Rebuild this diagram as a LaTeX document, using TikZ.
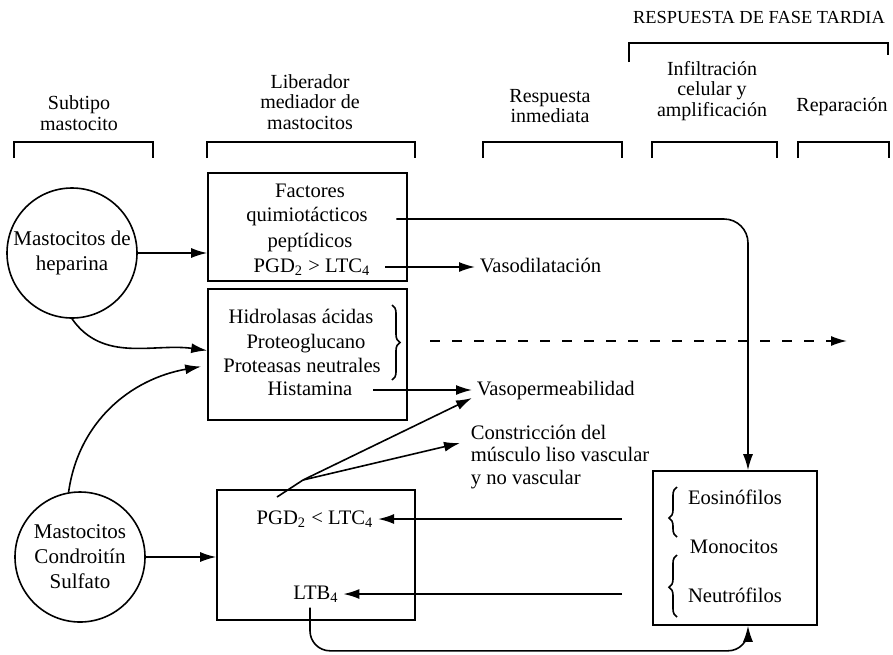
\documentclass[tikz,border=0pt]{standalone}
\usepackage{fontspec}
\setmainfont{Liberation Serif}
\usetikzlibrary{arrows.meta}
\usetikzlibrary{calc}
\usetikzlibrary{decorations.pathreplacing}

\begin{document}
\begin{tikzpicture}[x=0.5pt,y=-0.5pt,thick,
  arr/.style={-{Latex[length=8pt,width=5pt]}},
  box/.style={draw, minimum width=99.5pt, inner sep=0pt},
  cell/.style={draw, circle, inner sep=0pt, align=center, font=\fontsize{10.5}{12.5}\selectfont},
  hdr/.style={align=center, font=\fontsize{10}{10.2}\selectfont},
  txt/.style={inner sep=2pt, text height=1.6ex, text depth=.3ex, font=\fontsize{10.3}{12.5}\selectfont},
  brc/.style={decorate, decoration={brace, amplitude=4pt}}]
\useasboundingbox (0,0) rectangle (893,654);
% column titles
\node[hdr, font=\fontsize{9.2}{11}\selectfont] (tardia) at (759,17) {RESPUESTA DE FASE TARDIA};
\node[hdr] (hSub) at (79,113) {Subtipo\\mastocito};
\node[hdr] (hLib) at (310,102) {Liberador\\mediador de\\mastocitos};
\node[hdr] (hResp) at (550,106) {Respuesta\\inmediata};
\node[hdr] (hInf) at (712,91) {Infiltración\\celular y\\amplificación};
\node[hdr] (hRep) at (842,107) {Reparación};
\draw (629,62) -- (629,43) -- (888,43) -- (888,55);
\foreach \a/\b in {14/153, 207/415, 483/622, 652/777, 798/889}
  \draw (\a,158) -- (\a,142) -- (\b,142) -- (\b,158);
% mastocitos
\node[cell, minimum size=65pt] (hep) at (72,253) {Mastocitos de\\heparina};
\node[cell, minimum size=65pt] (cond) at (80,557) {Mastocitos\\Condroitín\\Sulfato};
% cajas
\node[box, minimum height=54pt] (box1) at (307.5,227) {};
\node[box, minimum height=65.5pt] (box2) at (307.5,354.5) {};
\node[box, minimum width=99pt, minimum height=65pt] (box3) at (316,555) {};
\node[box, minimum width=82pt, minimum height=77pt] (box4) at (735,548) {};
\node[txt] (fac) at (310,192) {Factores};
\node[txt] (qui) at (307,216) {quimiotácticos};
\node[txt] (pep) at (310,242) {peptídicos};
\node[txt] (pgdA) at (312,267) {PGD\textsubscript{2} > LTC\textsubscript{4}};
\node[txt] (hid) at (301,318) {Hidrolasas ácidas};
\node[txt] (pro) at (306,343) {Proteoglucano};
\node[txt] (neu) at (302,367) {Proteasas neutrales};
\node[txt] (his) at (310,390) {Histamina};
\node[txt] (pgdB) at (315,519) {PGD\textsubscript{2} < LTC\textsubscript{4}};
\node[txt] (ltb) at (316,594) {LTB\textsubscript{4}};
\node[txt] (eos) at (735,499) {Eosinófilos};
\node[txt] (mono) at (734,548) {Monocitos};
\node[txt] (neut) at (735,597) {Neutrófilos};
% respuestas
\node[txt, anchor=west] (vdil) at (475,267) {Vasodilatación};
\node[txt, anchor=west] (vper) at (472,390) {Vasopermeabilidad};
\node[anchor=west, inner sep=2pt, align=left, font=\fontsize{10.3}{11.3}\selectfont] (cons) at (466,457)
  {Constricción del\\músculo liso vascular\\y no vascular};
% flechas
\draw[arr] (hep.east) -- (hep.east -| box1.west);
\draw[arr] (hep.south) to[out=-55,in=172] ([yshift=2pt]box2.west);
\draw[arr] (cond.100) to[out=82,in=190] ([xshift=-3pt,yshift=-6pt]box2.west);
\draw[arr] (cond.east) -- (cond.east -| box3.west);
\draw[arr, rounded corners=12pt] ([xshift=12pt,yshift=-1.5pt]qui.east) -| ([xshift=6.5pt]box4.north);
\draw[arr] ([xshift=5pt]pgdA.east) -- (vdil.west);
\draw[arr] ([xshift=8pt]his.east) -- (vper.west);
\draw[brc] (392,305) -- (392,380);
\coordinate (brtip) at (400,341);
\coordinate (fin) at (847,341);
\draw[arr, dash pattern=on 5pt off 6pt] ($(brtip)+(30,0)$) -- (fin);
\coordinate (fan0) at (277,497);
\coordinate (fan) at (303,480);
\draw (fan0) -- (fan);
\draw[arr] (fan) -- ([yshift=-4pt]vper.west);
\draw[arr] (fan) -- ([xshift=-3pt,yshift=7pt]cons.west);
\draw[arr] ($(pgdB.east -| box4.west)+(-30,0)$) -- (pgdB.east);
\draw[arr] ($(ltb.east -| box4.west)+(-30,0)$) -- (ltb.east);
\draw[arr, rounded corners=10pt] ([xshift=-3pt]ltb.south) |- ($(box4.south)+(13,25)$) -- ([xshift=6.5pt]box4.south);
\draw[brc, decoration={aspect=0.38}] (677,537) -- (677,487);
\draw[brc, decoration={aspect=0.48}] (677,617) -- (677,555);
\end{tikzpicture}
\end{document}
